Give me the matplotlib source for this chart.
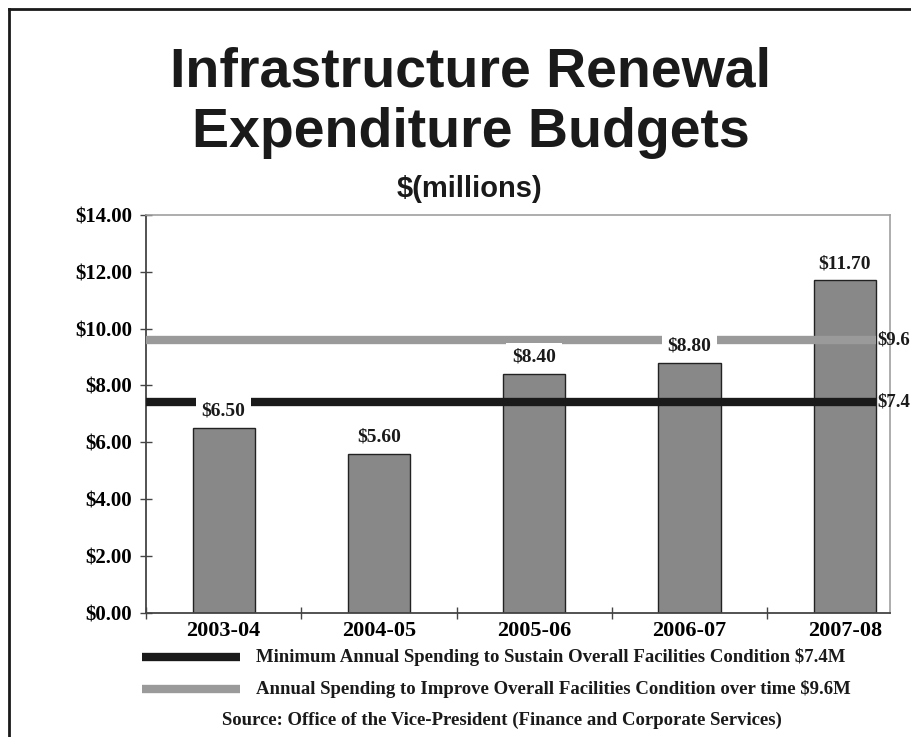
import matplotlib.pyplot as plt
from matplotlib.lines import Line2D

# Budget figures ($ millions) by fiscal year
years = ['2003-04', '2004-05', '2005-06', '2006-07', '2007-08']
budgets = [6.50, 5.60, 8.40, 8.80, 11.70]

# Reference spending levels ($ millions)
sustain_level = 7.4
improve_level = 9.6
sustain_text = 'Minimum Annual Spending to Sustain Overall Facilities Condition $7.4M'
improve_text = 'Annual Spending to Improve Overall Facilities Condition over time $9.6M'
source_text = 'Source: Office of the Vice-President (Finance and Corporate Services)'

yticks = [0, 2, 4, 6, 8, 10, 12, 14]

serif = 'Liberation Serif'
sans = 'Liberation Sans'
black = '#1a1a1a'
grey_line = '#9a9a9a'
bar_grey = '#888888'

fig = plt.figure(figsize=(9.11, 7.37), dpi=100)
ax = fig.add_axes([0.1603, 0.1687, 0.8167, 0.5396])

x = list(range(len(years)))
ax.bar(x, budgets, width=0.40, color=bar_grey, edgecolor='#222222', linewidth=1.0, zorder=2)

# horizontal reference lines across the plot, labels at the right end
ax.plot([-0.5, 4.2], [improve_level, improve_level], color=grey_line, lw=6, solid_capstyle='butt', zorder=3)
ax.plot([-0.5, 4.2], [sustain_level, sustain_level], color=black, lw=6, solid_capstyle='butt', zorder=3)
ax.text(4.21, improve_level, '$%.1f' % improve_level, fontfamily=serif, fontweight='bold',
        fontsize=13.5, va='center', ha='left', color=black, clip_on=False)
ax.text(4.21, sustain_level, '$%.1f' % sustain_level, fontfamily=serif, fontweight='bold',
        fontsize=13.5, va='center', ha='left', color=black, clip_on=False)

# value labels over the bars (white box breaks the lines)
for xi, v in zip(x, budgets):
    ax.annotate('$%.2f' % v, (xi, v), xytext=(0, 12), textcoords='offset points',
                ha='center', va='center', fontfamily=serif, fontweight='bold', fontsize=14,
                color=black, zorder=5,
                bbox=dict(boxstyle='square,pad=0.3', fc='white', ec='none'))

ax.set_xlim(-0.5, 4.292)
ax.set_ylim(0, 14)

ax.set_yticks(yticks)
ax.set_yticklabels(['$%.2f' % t for t in yticks], fontfamily=serif, fontweight='bold', fontsize=15)
ax.set_xticks([i - 0.5 for i in range(len(years))])
ax.set_xticklabels([])
ax.set_xticks(x, minor=True)
ax.set_xticklabels(years, minor=True, fontfamily=serif, fontweight='bold', fontsize=16)
ax.tick_params(axis='x', which='minor', length=0, pad=6)
ax.tick_params(axis='x', which='major', direction='inout', length=8, width=1, color='#444444')
ax.tick_params(axis='y', direction='inout', length=8, width=1, color='#444444', pad=6)

for side in ['top', 'right']:
    ax.spines[side].set_color('#a0a0a0')
    ax.spines[side].set_linewidth(1.2)
for side in ['left', 'bottom']:
    ax.spines[side].set_color('#444444')
    ax.spines[side].set_linewidth(1.3)

# titles
fig.text(0.517, 0.901, 'Infrastructure Renewal', fontfamily=sans, fontweight='bold',
         fontsize=40, ha='center', va='center', color=black)
fig.text(0.517, 0.819, 'Expenditure Budgets', fontfamily=sans, fontweight='bold',
         fontsize=40, ha='center', va='center', color=black)
fig.text(0.515, 0.743, '$(millions)', fontfamily=sans, fontweight='bold',
         fontsize=21, ha='center', va='center', color=black)

# legend rows drawn by hand under the axis
W, H = 911, 737
for ypix, col, txt in [(657, black, sustain_text), (689, grey_line, improve_text)]:
    fig.add_artist(Line2D([142 / W, 240 / W], [1 - ypix / H, 1 - ypix / H], color=col, lw=6,
                          solid_capstyle='butt'))
    fig.text(256 / W, 1 - ypix / H, txt, fontfamily=serif, fontweight='bold', fontsize=13.5,
             ha='left', va='center', color=black)
fig.text(502 / W, 1 - 720 / H, source_text, fontfamily=serif, fontweight='bold', fontsize=13.5,
         ha='center', va='center', color=black)

# page frame on the left and top edges
fig.add_artist(Line2D([9 / W, 9 / W], [0, 1 - 9 / H], color=black, lw=2))
fig.add_artist(Line2D([9 / W, 1], [1 - 9 / H, 1 - 9 / H], color=black, lw=2))

fig.savefig('out.png', dpi=100)
